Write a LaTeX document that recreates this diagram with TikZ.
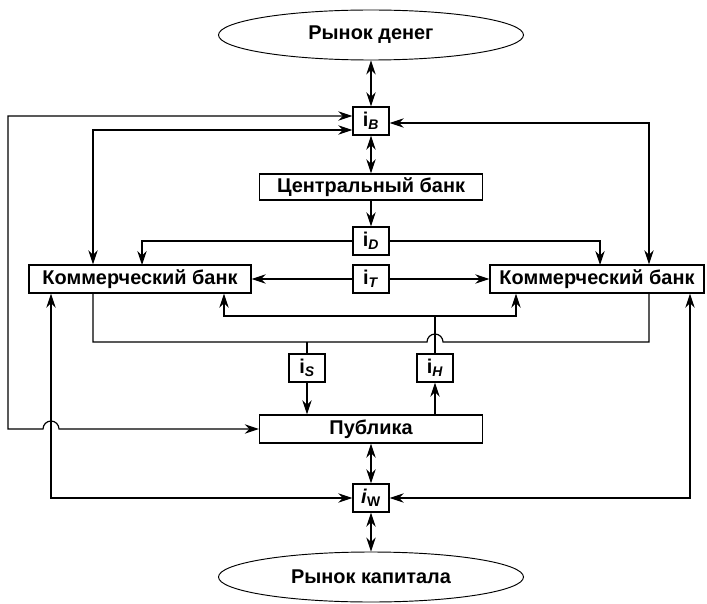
\documentclass[tikz,border=0pt]{standalone}
\usepackage{fontspec}
\setmainfont{Liberation Sans}
\usetikzlibrary{shapes.geometric,arrows.meta}
\begin{document}
\begin{tikzpicture}[x=0.03cm,y=0.03cm,line width=1pt,
		>={Stealth[length=12pt,width=8pt]},
		feld/.style={draw,line width=1.1pt,minimum height=0.84cm,inner sep=0pt,font=\fontsize{17}{20}\selectfont\bfseries},
		zins/.style={feld,minimum width=1.08cm},
		markt/.style={draw,ellipse,line width=0.8pt,minimum width=9.15cm,minimum height=1.5cm,font=\fontsize{17}{20}\selectfont\bfseries}]
		
		\useasboundingbox (0,0) rectangle (707,603);
		
		% Maerkte
		\node[markt] (geld) at (371,568) {Рынок денег};
		\node[markt] (kapital) at (371,26) {Рынок капитала};
		
		% Institutionen
		\node[feld,minimum width=6.69cm,minimum height=0.78cm] (zb) at (371,416) {Центральный банк};
		\node[feld,minimum width=6.66cm] (kbl) at (140,324) {Коммерческий банк};
		\node[feld,minimum width=6.42cm] (kbr) at (597,324) {Коммерческий банк};
		\node[feld,minimum width=6.69cm] (pub) at (371,174) {Публика};
		
		% Zinssaetze
		\node[zins] (ib) at (371,482) {i\textsubscript{\textit{B}}};
		\node[zins] (id) at (371,362) {i\textsubscript{\textit{D}}};
		\node[zins] (it) at (371,324) {i\textsubscript{\textit{T}}};
		\node[zins] (is) at (307,235) {i\textsubscript{\textit{S}}};
		\node[zins] (ih) at (435,235) {i\textsubscript{\textit{H}}};
		\node[zins] (iw) at (371,105) {\textit{i}\textsubscript{W}};
		
		% Eckpunkte
		\coordinate (la) at (8,487);
		\coordinate (lb) at (93,473);
		\coordinate (ra) at (649,480);
		\coordinate (dl) at (142,338);
		\coordinate (dr) at (600,338);
		\coordinate (bl) at (93,261);
		\coordinate (br) at (649,261);
		\coordinate (rl) at (224,287);
		\coordinate (rr) at (516,287);
		\coordinate (lw) at (51,105);
		\coordinate (rw) at (690,105);
		
		% Hauptachse
		\draw[<->] (geld) -- (ib);
		\draw[<->] (ib) -- (zb);
		\draw[->] (zb) -- (id);
		\draw[<->] (pub) -- (iw);
		\draw[<->] (iw) -- (kapital);
		
		% Zentralbank zu Geschaeftsbanken
		\draw[->] (id) -| (dl);
		\draw[->] (id) -| (dr);
		\draw[->] (it) -- (kbl);
		\draw[->] (it) -- (kbr);
		
		% Rueckfuehrung zu i_B
		\draw[<->] (ib.west |- la) -- (la) -- (la |- pub) -- (43,174) arc (180:0:8) -- (pub);
		\draw[<->] (ib.west |- lb) -- (lb) -- (lb |- kbl.north);
		\draw[<->] (ib.east |- ra) -- (ra) -- (ra |- kbr.north);
		
		% Banken und Publika
		\draw (bl |- kbl.south) -- (bl) -- (427,261) arc (180:0:8) -- (br) -- (br |- kbr.south);
		\draw (is |- bl) -- (is);
		\draw[->] (is) -- (is |- pub.north);
		\draw[<->] (rl |- kbl.south) -- (rl) -- (rr) -- (rr |- kbr.south);
		\draw (ih) -- (ih |- rl);
		\draw[->] (ih |- pub.north) -- (ih);
		
		% Kapitalmarkt
		\draw[<->] (lw |- kbl.south) -- (lw) -- (iw);
		\draw[<->] (rw |- kbr.south) -- (rw) -- (iw);
		
	\end{tikzpicture}
\end{document}
